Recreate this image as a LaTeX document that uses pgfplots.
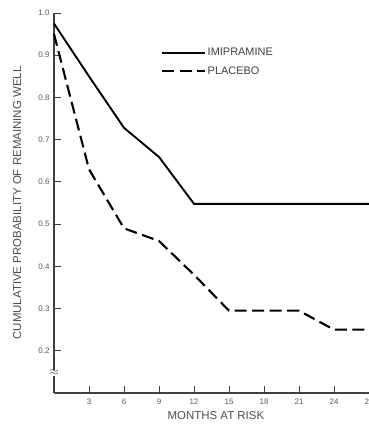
\documentclass[border=0pt]{standalone}
\usepackage{fontspec}
\setmainfont{Liberation Sans}
\usepackage{pgfplots}
\pgfplotsset{compat=1.18}
\begin{document}
\begin{tikzpicture}[x=1bp,y=1bp]
\begin{axis}[
  at={(0,0)}, anchor=origin,
  scale only axis,
  width=315bp, height=380bp,
  xmin=0, xmax=27, ymin=0.1, ymax=1.0,
  clip=false,
  axis x line*=bottom, axis y line*=left,
  axis line style={-, line width=1.3bp, black!75},
  tick style={line width=1bp, black!75},
  tick align=inside,
  major tick length=7bp,
  xtick={3,6,9,12,15,18,21,24,27},
  ytick={0.2,0.3,0.4,0.5,0.6,0.7,0.8,0.9,1.0},
  yticklabel style={/pgf/number format/fixed, /pgf/number format/fixed zerofill, /pgf/number format/precision=1, xshift=-1bp},
  /pgf/number format/assume math mode=true,
  ticklabel style={font=\fontsize{8}{9}\selectfont, text=black!65},
  xticklabel style={yshift=-2bp},
  xlabel={MONTHS AT RISK},
  ylabel={CUMULATIVE PROBABILITY OF REMAINING WELL},
  label style={font=\fontsize{11.5}{13}\selectfont, text=black!70},
  xlabel style={at={(rel axis cs:0.514,0)}, anchor=center, yshift=-23bp},
  ylabel style={at={(rel axis cs:-0.117,0.5)}, anchor=center},
  legend style={draw=none, fill=none, at={(rel axis cs:0.33,0.871)}, anchor=west,
    font=\fontsize{11}{12}\selectfont, text=black!75, row sep=6bp,
    nodes={inner sep=1.5bp}},
  legend cell align=left,
  legend image code/.code={\draw[#1] (0bp,0bp) -- (43bp,0bp);},
]
\addplot[black, line width=1.9bp] coordinates {
  (0,0.975) (3,0.85) (6,0.728) (9,0.659) (12,0.548) (27,0.548)
};
\addlegendentry{IMIPRAMINE}
\addplot[black, line width=2.1bp, dash pattern=on 12bp off 5.5bp] coordinates {
  (0,0.95) (3,0.63) (6,0.49) (9,0.46) (12,0.38) (15,0.295) (21,0.295) (24,0.25) (27,0.25)
};
\addlegendentry{PLACEBO}
\node[fill=white, inner sep=0.3bp, font=\fontsize{13}{13}\selectfont, text=black!75] at (axis cs:0,0.148) {$\approx$};
\end{axis}
\pgfresetboundingbox
\useasboundingbox (-54bp,-32bp) rectangle (315bp,393bp);
\end{tikzpicture}
\end{document}
